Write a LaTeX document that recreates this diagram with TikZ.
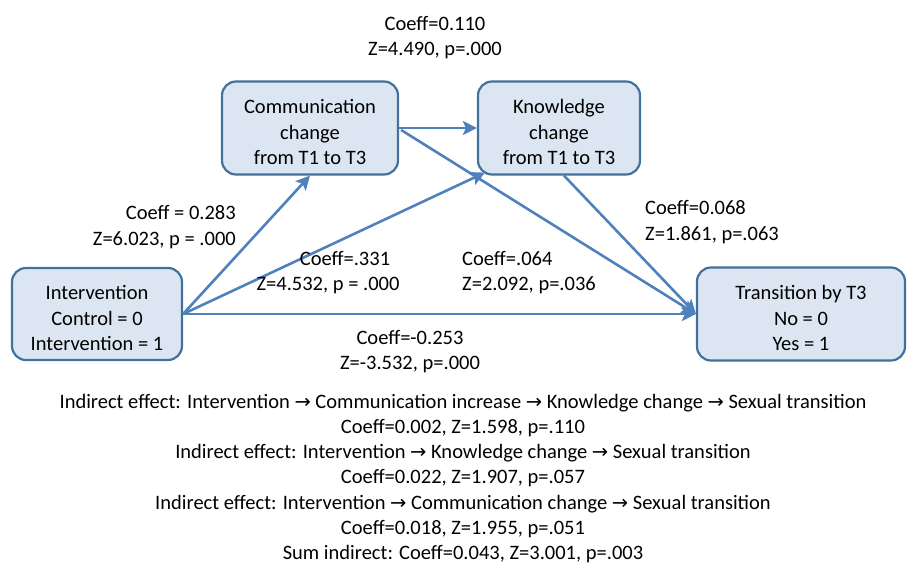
\documentclass[tikz,border=0pt]{standalone}
\usepackage{fontspec}
\setmainfont{Carlito}
\newfontfamily\arrfont{DejaVu Sans}
\usetikzlibrary{arrows.meta,calc}
\newcommand{\rarr}{{\arrfont\scalebox{0.95}{→}}}
\newcommand{\topfix}{\rule{0pt}{23pt}}
\definecolor{boxfill}{HTML}{DCE6F2}
\definecolor{boxline}{HTML}{41719C}
\definecolor{arrcol}{HTML}{4F81BD}
\begin{document}
\begin{tikzpicture}[x=1pt,y=-1pt,
  every node/.style={font=\fontsize{20.5}{25.5}\selectfont},
  box/.style={draw=boxline,fill=boxfill,line width=2.2pt,rounded corners=14pt,align=center,inner sep=0pt},
  conn/.style={draw=arrcol,line width=2.6pt,-{Stealth[length=14pt,width=14pt,inset=3pt]}},
  lab/.style={inner sep=0pt,align=center}]
\useasboundingbox (0,0) rectangle (907,565);
\node[box,minimum width=170pt,minimum height=92pt] (int) at (97,314) {\topfix Intervention\\Control = 0\\Intervention = 1};
\node[box,minimum width=176pt,minimum height=93pt] (comm) at (310,128) {\topfix Communication\\change\\from T1 to T3};
\node[box,minimum width=162pt,minimum height=93pt] (know) at (559,128) {\topfix Knowledge\\change\\from T1 to T3};
\node[box,minimum width=208pt,minimum height=93pt] (trans) at (801,314) {\topfix Transition by T3\\No = 0\\Yes = 1};
\coordinate (kn1) at ($(know.south west)+(8,-3)$);
\coordinate (kn2) at ($(know.south)+(5,0)$);
\coordinate (cm1) at ($(comm.east)+(2,2)$);
\draw[conn] (int.east) -- (comm.south);
\draw[conn] (int.east) -- (kn1);
\draw[conn] (int.east) -- (trans.west);
\draw[conn] (comm.east) -- (know.west);
\draw[conn] (cm1) -- (trans.west);
\draw[conn] (kn2) -- (trans.west);
\node[lab] (l1) at (435,37.5) {Coeff=0.110\\Z=4.490, p=.000};
\node[lab,align=right,anchor=east] (l2) at (236,227) {Coeff = 0.283\\Z=6.023, p = .000};
\node[lab] (l3) at (328,272.5) {\hspace*{34pt}Coeff=.331\\Z=4.532, p = .000};
\node[lab,align=left,anchor=west] (l4) at (462,272.5) {Coeff=.064\\Z=2.092, p=.036};
\node[lab,align=left,anchor=west] (l5) at (645,222) {Coeff=0.068\\Z=1.861, p=.063};
\node[lab] (l6) at (410,351.5) {Coeff=-0.253\\Z=-3.532, p=.000};
\node[lab,font=\fontsize{20.5}{25.1}\selectfont] (bot) at (463,478.5) {Indirect effect: Intervention \rarr{} Communication increase \rarr{} Knowledge change \rarr{} Sexual transition\\
Coeff=0.002, Z=1.598, p=.110\\
Indirect effect: Intervention \rarr{} Knowledge change \rarr{} Sexual transition\\
Coeff=0.022, Z=1.907, p=.057\\
Indirect effect: Intervention \rarr{} Communication change \rarr{} Sexual transition\\
Coeff=0.018, Z=1.955, p=.051\\
Sum indirect: Coeff=0.043, Z=3.001, p=.003};
\end{tikzpicture}
\end{document}
